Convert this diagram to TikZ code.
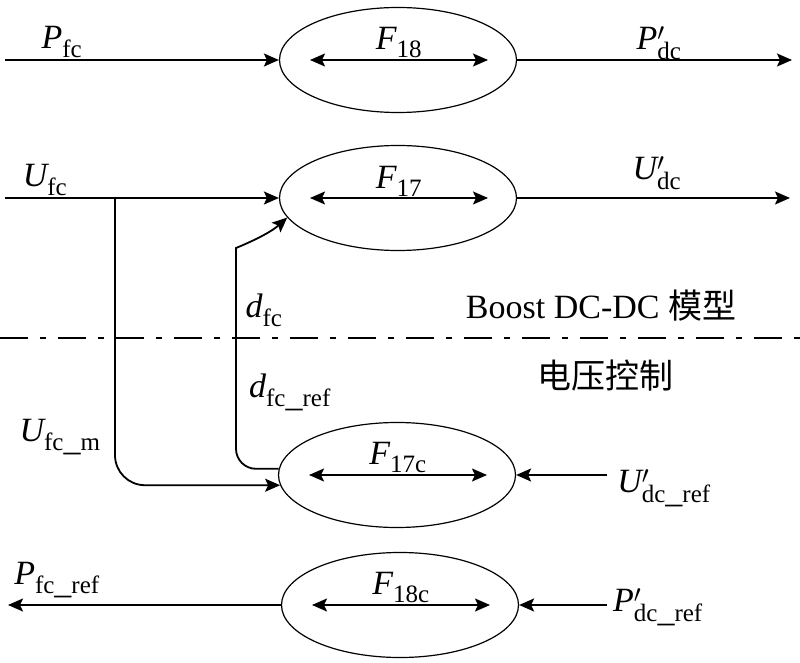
\documentclass[tikz,border=0pt]{standalone}
\usepackage{fontspec}
\setmainfont{Liberation Serif}
\newfontfamily\cjk{Noto Sans CJK SC}
\usetikzlibrary{arrows.meta,shapes.geometric}
\DeclareMathSizes{34}{34}{25}{20}

\newcommand{\sig}[2]{$\mathit{#1}_{\mathrm{#2}}$}
\newcommand{\sigp}[2]{$\mathit{#1}'_{\mathrm{#2}}$}

\begin{document}
\begin{tikzpicture}[x=1pt,y=1pt,font=\fontsize{34}{40}\selectfont,
    fblock/.style={draw,ellipse,line width=1.2pt,minimum width=237pt,
                   minimum height=105pt,inner sep=0pt},
    sig/.style={line width=1.8pt,-{Stealth[length=15pt,width=13pt,inset=3pt]}},
    both/.style={line width=1.8pt,{Stealth[length=15pt,width=13pt,inset=3pt]}-{Stealth[length=15pt,width=13pt,inset=3pt]}}]
      \useasboundingbox (0,0) rectangle (800,662);

      % mapping blocks
      \node[fblock] (F18) at (398,602) {};
      \node[fblock] (F17) at (398,464) {};
      \node[fblock] (F17c) at (397,187) {};
      \node[fblock] (F18c) at (400,57) {};
      \foreach \b/\t in {F18/18,F17/17,F17c/17c,F18c/18c}
        \draw[both] ([xshift=-88pt]\b.center) -- ([xshift=90pt]\b.center)
              node[midway,above=1pt,inner sep=0pt] (lbl\b) {$\mathit{F}_{\mathrm{\t}}$};

      % free ends of the signals
      \coordinate (pin) at (5,602);
      \coordinate (pout) at (792,602);
      \coordinate (uin) at (5,464);
      \coordinate (uout) at (790,464);
      \coordinate (ubr) at (115,464);
      \coordinate (dbend) at (236,394);
      \coordinate (urefin) at (607,187);
      \coordinate (prefin) at (607,57);
      \coordinate (prefout) at (8,57);
      \coordinate (sepl) at (0,324);
      \coordinate (sepr) at (800,324);

      \draw[sig] (pin) -- (F18.west);
      \draw[sig] (F18.east) -- (pout);
      \draw[sig] (uin) -- (F17.west);
      \draw[sig] (F17.east) -- (uout);
      \draw[sig,rounded corners=30pt] (ubr) |- (F17c.185);
      \draw[sig,rounded corners=20pt] (F17c.177) -| (dbend)
            [sharp corners] .. controls +(0,20) and +(-20,-18) .. (F17.190);
      \draw[sig] (urefin) -- (F17c.east);
      \draw[sig] (prefin) -- (F18c.east);
      \draw[sig] (F18c.west) -- (prefout);

      % separation of model and control
      \draw[line width=1.8pt,dash pattern=on 28pt off 12pt on 6pt off 12pt]
            (sepl) -- (sepr);
      \node (boost) at (601,356) {Boost DC-DC {\cjk 模型}};
      \node (vctl) at (605,286) {\cjk 电压控制};

      % signal names
      \node (pfc) at (62,620) {\sig{P}{fc}};
      \node (pdc) at (659,619) {\sigp{P}{dc}};
      \node (ufc) at (45,482) {\sig{U}{fc}};
      \node (udc) at (657,489) {\sigp{U}{dc}};
      \node (dfc) at (264,352) {\sig{d}{fc}};
      \node (dfcref) at (290,270) {\sig{d}{fc\_ref}};
      \node (ufcm) at (60,225) {\sig{U}{fc\_m}};
      \node (udcref) at (664,174) {\sigp{U}{dc\_ref}};
      \node (pfcref) at (57,82) {\sig{P}{fc\_ref}};
      \node (pdcref) at (658,55) {\sigp{P}{dc\_ref}};
\end{tikzpicture}
\end{document}
